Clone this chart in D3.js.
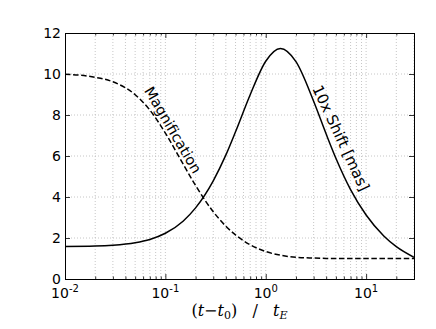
<!DOCTYPE html>
<html>
<head>
<meta charset="utf-8">
<script src="https://cdn.jsdelivr.net/npm/d3@7"></script>
<style>
  body { margin: 0; background: #fff; }
  text { font-family: "DejaVu Sans", sans-serif; }
</style>
</head>
<body>
<div id="chart"></div>
<script>
// sampled times (t - t0) / tE
var times = [0.01, 0.02, 0.03, 0.05, 0.07, 0.1, 0.15, 0.2, 0.3, 0.4, 0.5, 0.7,
  1.0, 1.4, 2, 3, 4, 5, 7, 10, 15, 20, 30];
// magnification (dashed)
var magnification = [9.99, 9.84, 9.62, 8.99, 8.24, 7.12, 5.61, 4.56, 3.28, 2.58, 2.15, 1.67,
  1.34, 1.16, 1.06, 1.02, 1.006, 1.003, 1.001, 1.0, 1.0, 1.0, 1.0];
// 10x shift in mas (solid)
var shift = [1.59, 1.61, 1.65, 1.77, 1.93, 2.23, 2.82, 3.47, 4.79, 6.04, 7.18, 8.99,
  10.62, 11.24, 10.60, 8.67, 7.07, 5.89, 4.36, 3.12, 2.10, 1.58, 1.06];
var yTicks = [0, 2, 4, 6, 8, 10, 12];
var xDecades = [-2, -1, 0, 1];

var width = 436, height = 329;
var margin = { left: 65, right: 22, top: 33, bottom: 50 };
var innerWidth = width - margin.left - margin.right;
var innerHeight = height - margin.top - margin.bottom;

var svg = d3.select("#chart").append("svg")
  .attr("width", width)
  .attr("height", height);

var g = svg.append("g")
  .attr("transform", "translate(" + margin.left + "," + margin.top + ")");

var xScale = d3.scaleLog().domain([0.01, 30]).range([0, innerWidth]);
var yScale = d3.scaleLinear().domain([0, 12]).range([innerHeight, 0]);

// minor tick values 2..9 in every decade
var minorTicks = [];
xDecades.forEach(function(e) {
  for (var k = 2; k <= 9; k++) {
    var v = k * Math.pow(10, e);
    if (v <= 30) minorTicks.push(v);
  }
});
var majorTicks = xDecades.map(function(e) { return Math.pow(10, e); });

// grid
var grid = g.append("g").attr("stroke", "#b8b8b8").attr("stroke-width", 0.8)
  .attr("stroke-dasharray", "1,2");
grid.selectAll(".vx").data(majorTicks.concat(minorTicks).filter(function(v) { return v > 0.01; }))
  .enter().append("line")
  .attr("x1", function(d) { return xScale(d); }).attr("x2", function(d) { return xScale(d); })
  .attr("y1", 0).attr("y2", innerHeight);
grid.selectAll(".hy").data(yTicks.filter(function(v) { return v > 0 && v < 12; }))
  .enter().append("line")
  .attr("y1", function(d) { return yScale(d); }).attr("y2", function(d) { return yScale(d); })
  .attr("x1", 0).attr("x2", innerWidth);

// axes with inward ticks on all sides
var xBottom = d3.axisBottom(xScale).tickValues(majorTicks).tickSize(-5);
var xBottomMinor = d3.axisBottom(xScale).tickValues(minorTicks).tickSize(-2.5);
var xTop = d3.axisTop(xScale).tickValues(majorTicks).tickSize(-5);
var xTopMinor = d3.axisTop(xScale).tickValues(minorTicks).tickSize(-2.5);
var yLeft = d3.axisLeft(yScale).tickValues(yTicks).tickSize(-5);
var yRight = d3.axisRight(yScale).tickValues(yTicks).tickSize(-5);

function styleAxis(sel) {
  sel.selectAll("text").remove();
  sel.selectAll("path").attr("stroke", "#000").attr("stroke-width", 1);
  sel.selectAll("line").attr("stroke", "#000").attr("stroke-width", 0.8);
}
styleAxis(g.append("g").attr("transform", "translate(0," + innerHeight + ")").call(xBottom));
styleAxis(g.append("g").attr("transform", "translate(0," + innerHeight + ")").call(xBottomMinor));
styleAxis(g.append("g").call(xTop));
styleAxis(g.append("g").call(xTopMinor));
styleAxis(g.append("g").call(yLeft));
styleAxis(g.append("g").attr("transform", "translate(" + innerWidth + ",0)").call(yRight));

// tick labels
g.selectAll(".ylab").data(yTicks).enter().append("text")
  .attr("x", -4).attr("y", function(d) { return yScale(d); })
  .attr("dy", "0.36em").attr("text-anchor", "end")
  .style("font-size", "14px").text(function(d) { return d; });

var xl = g.selectAll(".xlab").data(xDecades).enter().append("text")
  .attr("x", function(d) { return xScale(Math.pow(10, d)); })
  .attr("y", innerHeight + 19)
  .attr("text-anchor", "middle")
  .style("font-size", "14px");
xl.append("tspan").text("10");
xl.append("tspan").attr("dy", "-6").style("font-size", "10px").text(function(d) { return d; });

// curves
var line = d3.line().curve(d3.curveMonotoneX)
  .x(function(d) { return xScale(d[0]); })
  .y(function(d) { return yScale(d[1]); });

svg.append("clipPath").attr("id", "clip").append("rect")
  .attr("width", innerWidth).attr("height", innerHeight);

g.append("path").datum(d3.zip(times, magnification))
  .attr("clip-path", "url(#clip)")
  .attr("d", line).attr("fill", "none").attr("stroke", "#000")
  .attr("stroke-width", 1.5).attr("stroke-dasharray", "5.5,2.6");
g.append("path").datum(d3.zip(times, shift))
  .attr("clip-path", "url(#clip)")
  .attr("d", line).attr("fill", "none").attr("stroke", "#000")
  .attr("stroke-width", 1.5);

// inline labels
svg.append("text")
  .attr("transform", "translate(173,130) rotate(59.5)")
  .attr("text-anchor", "middle").attr("dy", "0.35em")
  .style("font-size", "14.5px").text("Magnification");
svg.append("text")
  .attr("transform", "translate(341,138) rotate(65)")
  .attr("text-anchor", "middle").attr("dy", "0.35em")
  .style("font-size", "15px").text("10x Shift [mas]");

// x axis label
var xt = svg.append("text")
  .attr("x", margin.left + innerWidth / 2).attr("y", 316)
  .attr("text-anchor", "middle")
  .style("font-family", "'DejaVu Serif', serif")
  .style("font-size", "16px")
  .attr("xml:space", "preserve");
xt.append("tspan").text("(");
xt.append("tspan").style("font-style", "italic").text("t");
xt.append("tspan").text("\u2212");
xt.append("tspan").style("font-style", "italic").text("t");
xt.append("tspan").attr("dy", 3).style("font-size", "11px").text("0");
xt.append("tspan").attr("dy", -3).text(")   /   ");
xt.append("tspan").style("font-style", "italic").text("t");
xt.append("tspan").attr("dy", 3).style("font-size", "11px").style("font-style", "italic").text("E");
</script>
</body>
</html>
